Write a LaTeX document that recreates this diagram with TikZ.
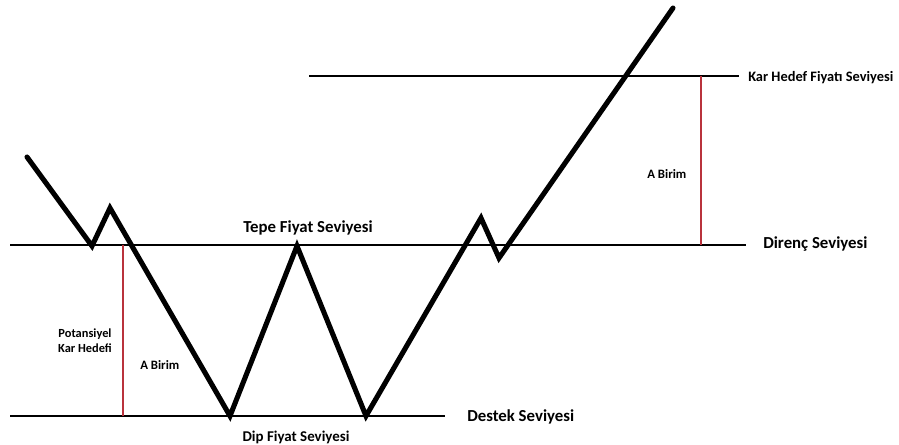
\documentclass[tikz,border=0pt]{standalone}
\usepackage{fontspec}
\setmainfont{Carlito}
\definecolor{redline}{RGB}{185,50,60}
\begin{document}
\begin{tikzpicture}[x=0.75pt,y=-0.75pt,
  level/.style={line width=2pt,black},
  price/.style={line width=3.8pt,black,line join=miter,line cap=round},
  measure/.style={line width=1.6pt,redline},
  biglabel/.style={font=\bfseries\fontsize{12.6}{14}\selectfont,inner sep=0pt},
  smalllabel/.style={font=\bfseries\fontsize{9.6}{11.5}\selectfont,inner sep=0pt,align=center}]
\useasboundingbox (0,0) rectangle (899,445);
% levels
\coordinate (dL) at (10,245); \coordinate (dR) at (746,245);
\coordinate (sL) at (10,416); \coordinate (sR) at (445,416);
\coordinate (kL) at (309,76); \coordinate (kR) at (739,76);
\draw[level] (dL) -- (dR);
\draw[level] (sL) -- (sR);
\draw[level] (kL) -- (kR);
% red measures
\coordinate (m1t) at (123,245); \coordinate (m1b) at (123,416);
\coordinate (m2t) at (701,76); \coordinate (m2b) at (701,245);
\draw[measure] (m1t) -- (m1b);
\draw[measure] (m2t) -- (m2b);
% price path
\coordinate (p0) at (27,157);
\coordinate (p1) at (92,246);
\coordinate (p2) at (110,208);
\coordinate (p3) at (230,416);
\coordinate (p4) at (297,246);
\coordinate (p5) at (366,416);
\coordinate (p6) at (481,218);
\coordinate (p7) at (499,258);
\coordinate (p8) at (673,8);
\draw[price] (p0) -- (p1) -- (p2) -- (p3) -- (p4) -- (p5) -- (p6) -- (p7) -- (p8);
% labels
\node[biglabel,anchor=west] (direnc) at (763,244) {Direnç Seviyesi};
\node[biglabel,anchor=west] (destek) at (467,417) {Destek Seviyesi};
\node[biglabel] (tepe) at (308,228) {Tepe Fiyat Seviyesi};
\node[font=\bfseries\fontsize{11.2}{13}\selectfont,inner sep=0pt] (dip) at (296,437) {Dip Fiyat Seviyesi};
\node[font=\bfseries\fontsize{10.8}{13}\selectfont,inner sep=0pt,anchor=west] (kar) at (748,78) {Kar Hedef Fiyatı Seviyesi};
\node[font=\bfseries\fontsize{9.3}{11}\selectfont,inner sep=0pt,align=center] (pot) at (85,341) {Potansiyel\\Kar Hedefi};
\node[smalllabel,anchor=west] (a1) at (140,365) {A Birim};
\node[smalllabel,anchor=west] (a2) at (647,174) {A Birim};
\end{tikzpicture}
\end{document}
